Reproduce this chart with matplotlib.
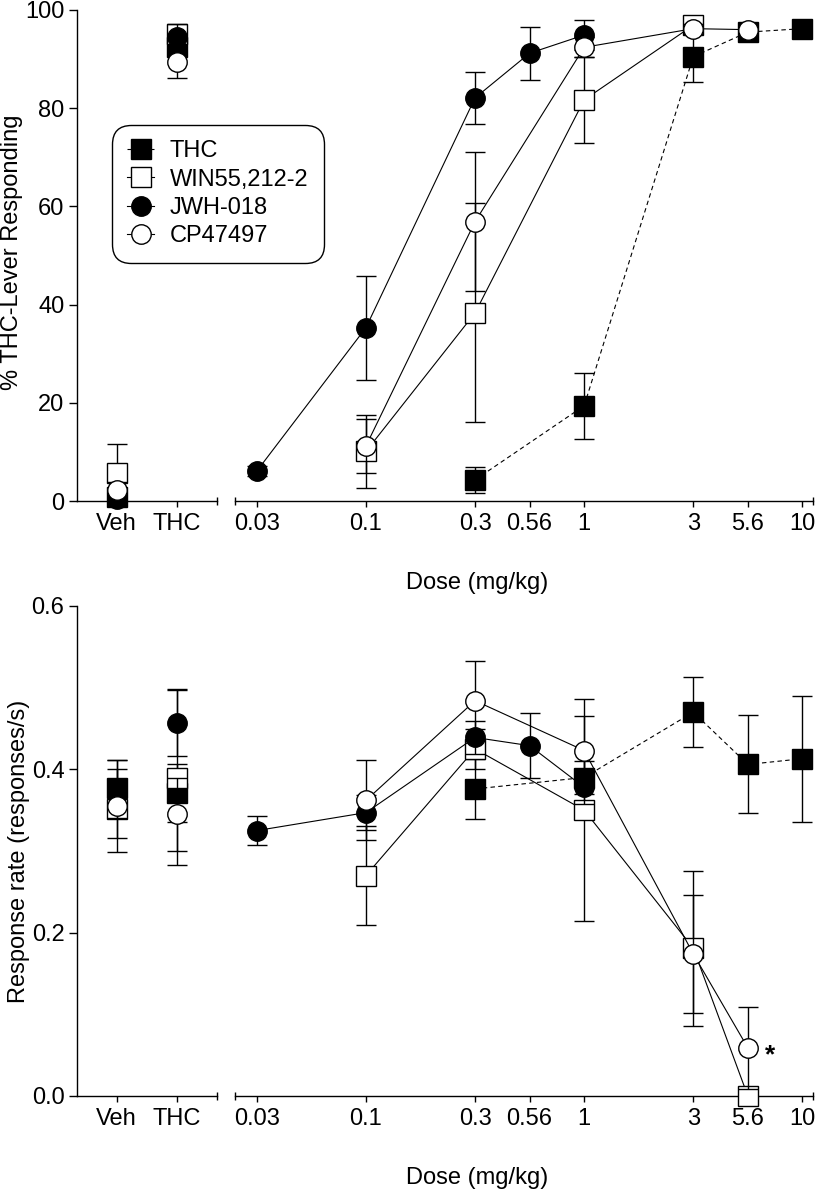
"""
Drug discrimination: % THC-lever responding and response rate vs dose
"""

import numpy as np
import matplotlib
matplotlib.use("Agg")
import matplotlib.pyplot as plt
from matplotlib.ticker import FixedLocator

plt.rcParams["font.family"] = ["Liberation Sans", "DejaVu Sans"]
plt.rcParams["font.size"] = 17

# ---- data -------------------------------------------------------------
dose_ticks = [0.03, 0.1, 0.3, 0.56, 1, 3, 5.6, 10]
dose_labels = ["0.03", "0.1", "0.3", "0.56", "1", "3", "5.6", "10"]
ctrl_labels = ["Veh", "THC"]
names = ["THC", "WIN55,212-2", "JWH-018", "CP47497"]

thc_dose = [0.3, 1, 3, 5.6, 10]
win_dose_disc = [0.1, 0.3, 1, 3]
win_dose_rate = [0.1, 0.3, 1, 3, 5.6]
jwh_dose = [0.03, 0.1, 0.3, 0.56, 1]
cp_dose = [0.1, 0.3, 1, 3, 5.6]

# % THC-lever responding
thc_disc = [4.3, 19.4, 90.5, 95.5, 96.2]
thc_disc_sem = [2.6, 6.7, 5.2, 1.0, 0.8]
win_disc = [10.1, 38.3, 81.7, 96.9]
win_disc_sem = [7.5, 22.3, 8.8, 1.0]
jwh_disc = [6.1, 35.3, 82.1, 91.2, 94.9]
jwh_disc_sem = [1.0, 10.6, 5.3, 5.4, 3.0]
cp_disc = [11.2, 56.9, 92.4, 96.2, 96.0]
cp_disc_sem = [5.5, 14.2, 2.0, 1.0, 1.0]

thc_ctrl_disc = [0.8, 92.4]
thc_ctrl_disc_sem = [0.8, 2.0]
win_ctrl_disc = [5.8, 95.1]
win_ctrl_disc_sem = [5.8, 1.5]
jwh_ctrl_disc = [0.5, 94.5]
jwh_ctrl_disc_sem = [0.5, 2.6]
cp_ctrl_disc = [2.3, 89.4]
cp_ctrl_disc_sem = [1.5, 3.3]

# response rate (responses/s)
thc_rate = [0.376, 0.390, 0.470, 0.406, 0.413]
thc_rate_sem = [0.037, 0.020, 0.043, 0.060, 0.077]
win_rate = [0.270, 0.425, 0.350, 0.181, 0.0]
win_rate_sem = [0.061, 0.025, 0.136, 0.095, 0.0]
jwh_rate = [0.325, 0.347, 0.439, 0.429, 0.378]
jwh_rate_sem = [0.018, 0.021, 0.020, 0.040, 0.020]
cp_rate = [0.362, 0.484, 0.423, 0.174, 0.059]
cp_rate_sem = [0.049, 0.049, 0.042, 0.072, 0.050]

thc_ctrl_rate = [0.377, 0.371]
thc_ctrl_rate_sem = [0.035, 0.035]
win_ctrl_rate = [0.351, 0.390]
win_ctrl_rate_sem = [0.035, 0.107]
jwh_ctrl_rate = [0.370, 0.457]
jwh_ctrl_rate_sem = [0.030, 0.041]
cp_ctrl_rate = [0.355, 0.345]
cp_ctrl_rate_sem = [0.056, 0.045]

# ---- dose axis: half-log spacing as drawn in the original ---------------
scale_pts = np.log10([0.003, 0.03, 0.1, 0.3, 0.56, 1, 3, 5.6, 10, 100])
scale_pos = [-2.5, -1.5, -1, -0.5, -0.25, 0, 0.5, 0.75, 1, 2]


def fwd(d):
    d = np.clip(np.asarray(d, dtype=float), 1e-6, None)
    return np.interp(np.log10(d), scale_pts, scale_pos)


def inv(s):
    return 10 ** np.interp(s, scale_pos, scale_pts)


W, H = 815, 1191
fig = plt.figure(figsize=(W / 100, H / 100), dpi=100)


def px_rect(x0, x1, y0, y1):
    return [x0 / W, 1 - y1 / H, (x1 - x0) / W, (y1 - y0) / H]


ax_tc = fig.add_axes(px_rect(77, 216.7, 10, 501))
ax_td = fig.add_axes(px_rect(235, 813.3, 10, 501))
ax_bc = fig.add_axes(px_rect(77, 216.7, 606, 1096))
ax_bd = fig.add_axes(px_rect(235, 813.3, 606, 1096))

styles = [
    dict(marker="s", mfc="black", ls=(0, (4, 3))),
    dict(marker="s", mfc="white", ls="-"),
    dict(marker="o", mfc="black", ls="-"),
    dict(marker="o", mfc="white", ls="-"),
]
zorders = [2, 3, 4, 5]

disc_sets = [
    (thc_ctrl_disc, thc_ctrl_disc_sem, thc_dose, thc_disc, thc_disc_sem),
    (win_ctrl_disc, win_ctrl_disc_sem, win_dose_disc, win_disc, win_disc_sem),
    (jwh_ctrl_disc, jwh_ctrl_disc_sem, jwh_dose, jwh_disc, jwh_disc_sem),
    (cp_ctrl_disc, cp_ctrl_disc_sem, cp_dose, cp_disc, cp_disc_sem),
]
rate_sets = [
    (thc_ctrl_rate, thc_ctrl_rate_sem, thc_dose, thc_rate, thc_rate_sem),
    (win_ctrl_rate, win_ctrl_rate_sem, win_dose_rate, win_rate, win_rate_sem),
    (jwh_ctrl_rate, jwh_ctrl_rate_sem, jwh_dose, jwh_rate, jwh_rate_sem),
    (cp_ctrl_rate, cp_ctrl_rate_sem, cp_dose, cp_rate, cp_rate_sem),
]

err_kw = dict(fmt="none", ecolor="black", elinewidth=1.0, capsize=7, capthick=1.0)
mk_kw = dict(color="black", mec="black", ms=14, mew=1.0, lw=0.8, clip_on=False)

for ax in (ax_bd, ax_td):
    ax.set_xscale("function", functions=(fwd, inv))

handles = []
for ax_c, ax_d, sets in ((ax_tc, ax_td, disc_sets), (ax_bc, ax_bd, rate_sets)):
    for (cv, cs, dx, dv, ds), st, z in zip(sets, styles, zorders):
        ax_c.plot(ctrl_labels, cv, marker=st["marker"], mfc=st["mfc"], ls="none",
                  zorder=z, **mk_kw)
        ax_c.errorbar(ctrl_labels, cv, yerr=cs, zorder=z - 0.5, **err_kw)
        ln, = ax_d.plot(dx, dv, marker=st["marker"], mfc=st["mfc"], ls=st["ls"],
                        zorder=z, **mk_kw)
        ax_d.errorbar(dx, dv, yerr=ds, zorder=z - 0.5, **err_kw)
        if ax_d is ax_td:
            handles.append(ln)

# ---- axes styling -----------------------------------------------------
dose_lim = (inv(-1.6), inv(1.05))
ctrl_lim = (-0.66, 1.66)

for ax, ylim, yt in ((ax_tc, (0, 100), [0, 20, 40, 60, 80, 100]),
                     (ax_bc, (0, 0.6), [0.0, 0.2, 0.4, 0.6])):
    ax.set_xlim(*ctrl_lim)
    ax.set_ylim(*ylim)
    ax.set_yticks(yt)
    ax.spines[["top", "right"]].set_visible(False)
    ax.spines[["left", "bottom"]].set_linewidth(1.0)
    ax.xaxis.set_minor_locator(FixedLocator([ctrl_lim[1]]))
    ax.tick_params(axis="y", direction="out", length=6, width=1.0, pad=3, labelsize=17)
    ax.tick_params(axis="x", which="major", direction="out", length=4.5, width=1.0,
                   pad=4, labelsize=17)
    ax.tick_params(axis="x", which="minor", direction="inout", length=6, width=1.0)

ax_bc.set_yticklabels(["0.0", "0.2", "0.4", "0.6"])

for ax, ylim in ((ax_td, (0, 100)), (ax_bd, (0, 0.6))):
    ax.set_xlim(*dose_lim)
    ax.set_ylim(*ylim)
    ax.set_xticks(dose_ticks)
    ax.set_xticklabels(dose_labels)
    ax.xaxis.set_minor_locator(FixedLocator(list(dose_lim)))
    ax.spines[["top", "right", "left"]].set_visible(False)
    ax.spines["bottom"].set_linewidth(1.0)
    ax.tick_params(axis="y", left=False, labelleft=False)
    ax.tick_params(axis="x", which="major", direction="out", length=4.5, width=1.0,
                   pad=4, labelsize=17)
    ax.tick_params(axis="x", which="minor", direction="inout", length=6, width=1.0,
                   labelbottom=False)

# significance mark next to CP47497 at 5.6 mg/kg
ax_bd.text(inv(0.852), 0.0416, "*", ha="center", va="baseline", fontsize=19,
           fontweight="bold")

fig.text(12 / W, 1 - 252 / H, "% THC-Lever Responding", rotation=90,
         ha="center", va="center", fontsize=17)
fig.text(18.7 / W, 1 - 851 / H, "Response rate (responses/s)", rotation=90,
         ha="center", va="center", fontsize=17)
fig.text(477 / W, 1 - 583 / H, "Dose (mg/kg)", ha="center", va="center", fontsize=17)
fig.text(477 / W, 1 - 1178 / H, "Dose (mg/kg)", ha="center", va="center", fontsize=17)

leg = fig.legend(handles, names, loc="upper left",
                 bbox_to_anchor=(111.7 / W, 1 - 125 / H), borderaxespad=0,
                 fontsize=17, numpoints=1, handlelength=1.15, handletextpad=0.65,
                 labelspacing=0.27, borderpad=0.65, fancybox=True, framealpha=1,
                 edgecolor="black")
leg.get_frame().set_linewidth(1.0)
leg.get_frame().set_boxstyle("round", pad=0, rounding_size=0.8)

fig.savefig("out.png", dpi=100)
